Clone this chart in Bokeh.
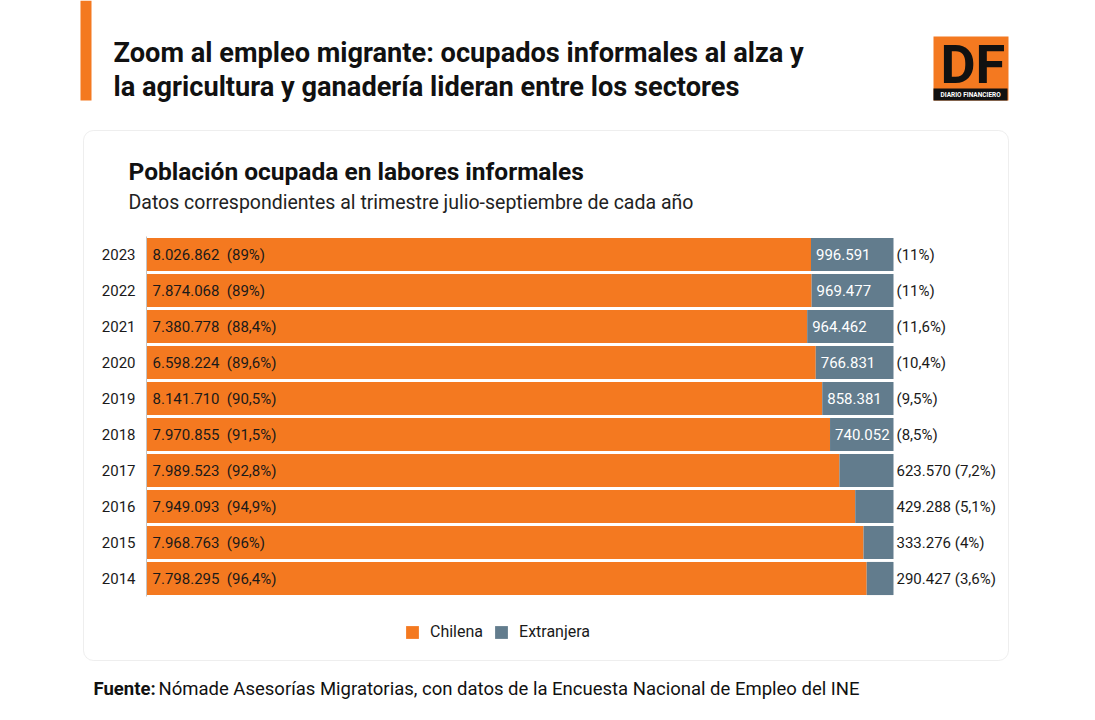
from bokeh.plotting import figure
from bokeh.models import (ColumnDataSource, Range1d, Label, LabelSet,
                          BoxAnnotation, Legend, LegendItem)
from bokeh.core.properties import value
from bokeh.embed import file_html
from bokeh.resources import INLINE

# ---------------- data ----------------
years = ["2014", "2015", "2016", "2017", "2018", "2019", "2020", "2021", "2022", "2023"]
chilena = [7798295, 7968763, 7949093, 7989523, 7970855, 8141710, 6598224, 7380778, 7874068, 8026862]
extranjera = [290427, 333276, 429288, 623570, 740052, 858381, 766831, 964462, 969477, 996591]
pct_chilena = ["96,4%", "96%", "94,9%", "92,8%", "91,5%", "90,5%", "89,6%", "88,4%", "89%", "89%"]
pct_extranjera = ["3,6%", "4%", "5,1%", "7,2%", "8,5%", "9,5%", "10,4%", "11,6%", "11%", "11%"]
series_names = ["Chilena", "Extranjera"]

title_lines = ["Zoom al empleo migrante: ocupados informales al alza y",
               "la agricultura y ganadería lideran entre los sectores"]
chart_title = "Población ocupada en labores informales"
chart_subtitle = "Datos correspondientes al trimestre julio-septiembre de cada año"
source_bold = "Fuente:"
source_text = "Nómade Asesorías Migratorias, con datos de la Encuesta Nacional de Empleo del INE"

ORANGE = "#F47920"
GREY = "#627C8D"
DARK = "#1a1a1a"
FONT = "Roboto"


def fmt(n):
    return "{:,}".format(n).replace(",", ".")


idx = list(range(len(years)))
share_c = [c / (c + e) * 100 for c, e in zip(chilena, extranjera)]
inside = [(100 - s) > 8 for s in share_c]

src = ColumnDataSource(dict(
    idx=idx,
    year=years,
    zero=[0] * len(years),
    share_c=share_c,
    full=[100] * len(years),
    lab_c=[f"{fmt(c)}\u00a0 ({p})" for c, p in zip(chilena, pct_chilena)],
))
src_in = ColumnDataSource(dict(
    idx=[k for k, i in zip(idx, inside) if i],
    x=[s for s, i in zip(share_c, inside) if i],
    lab=[fmt(e) for e, i in zip(extranjera, inside) if i],
))
src_out = ColumnDataSource(dict(
    idx=idx,
    x=[100] * len(years),
    lab=[f"({p})" if i else f"{fmt(e)} ({p})" for e, p, i in zip(extranjera, pct_extranjera, inside)],
))

# ---------------- layout (canvas pixels) ----------------
W, H = 1085, 712
BAR_L, BAR_R = 146, 893          # left / right pixel of the 0..100 % scale
ROW0_C, ROW_H = 578, 36          # pixel centre of the first row, row pitch
K = (BAR_R - BAR_L) / 100.0
y0 = -(H - ROW0_C) / ROW_H

p = figure(width=W, height=H, title=None,
           x_range=Range1d(-BAR_L / K, (W - BAR_L) / K),
           y_range=Range1d(y0, y0 + H / ROW_H),
           output_backend="svg", toolbar_location=None,
           min_border=0, min_border_left=0, min_border_right=0,
           min_border_top=0, min_border_bottom=0)
p.outline_line_color = None
p.xgrid.visible = False
p.ygrid.visible = False
p.xaxis.visible = False
p.yaxis.visible = False


def box(l, r, t, b, **kw):
    p.add_layout(BoxAnnotation(left=l, right=r, top=H - t, bottom=H - b,
                               left_units="screen", right_units="screen",
                               top_units="screen", bottom_units="screen", **kw))


def label(px, baseline, text, size, bold=False, color=DARK, **kw):
    # place the text so that its alphabetic baseline sits at page pixel `baseline`
    y = baseline - 0.37 * size
    p.add_layout(Label(x=px, y=H - y, x_units="screen", y_units="screen",
                       text=text, text_font=FONT, text_font_size=f"{size}px",
                       text_font_style="bold" if bold else "normal",
                       text_color=color, text_baseline="alphabetic", **kw))


# chart box
box(83, 1008, 130, 660, fill_alpha=0, line_color="#c8c8c8", line_width=1, border_radius=10,
    level="underlay")

# bars
r1 = p.hbar(y="idx", left="zero", right="share_c", height=0.92, fill_color=ORANGE,
            line_color=None, source=src)
r2 = p.hbar(y="idx", left="share_c", right="full", height=0.92, fill_color=GREY,
            line_color=None, source=src)
# category axis line + year labels
p.segment(x0=0, y0=-0.5, x1=0, y1=len(years) - 0.5, line_color="#c4c4c4", line_width=1)
p.text(x="zero", y="idx", text="year", source=src, x_offset=-11, text_align="right",
       text_baseline="middle", text_font=value(FONT), text_font_size="15px", text_color=DARK)

p.add_layout(LabelSet(x="zero", y="idx", text="lab_c", source=src, x_offset=6,
                      text_baseline="middle", text_font=value(FONT), text_font_size="15px",
                      text_color=DARK))
p.add_layout(LabelSet(x="x", y="idx", text="lab", source=src_in, x_offset=5,
                      text_baseline="middle", text_font=value(FONT), text_font_size="15px",
                      text_color="white"))
p.add_layout(LabelSet(x="x", y="idx", text="lab", source=src_out, x_offset=3,
                      text_baseline="middle", text_font=value(FONT), text_font_size="15px",
                      text_color=DARK))

# orange accent bar
box(80, 91, 0, 100, fill_color=ORANGE, fill_alpha=1, line_color=None)
# headline
label(113, 63, title_lines[0], 27.2, bold=True, color="#111111")
label(113, 97, title_lines[1], 27.2, bold=True, color="#111111")
# DF logo
box(933, 1008, 36, 100, fill_color=ORANGE, fill_alpha=1, line_color=None)
box(933, 1007, 88, 100, fill_color="#111111", fill_alpha=1, line_color=None)
label(940, 84, "DF", 54, bold=True, color="#111111")
label(940, 97, "DIARIO FINANCIERO", 6.5, bold=True, color="white")
# chart titles
label(128, 180, chart_title, 24.5, bold=True, color="#111111")
label(128, 209, chart_subtitle, 19.5, color="#222222")
# source
label(93, 695, source_bold, 18.5, bold=True, color="#111111")
label(158, 695, source_text, 18.5, color="#111111")

legend = Legend(items=[LegendItem(label=series_names[0], renderers=[r1]),
                       LegendItem(label=series_names[1], renderers=[r2])],
                orientation="horizontal", location=(404, H - 641),
                glyph_width=16, glyph_height=16, label_standoff=10, spacing=10,
                padding=0, margin=0, border_line_color=None, background_fill_alpha=0,
                label_text_font=FONT, label_text_font_size="16px", label_text_color=DARK)
p.add_layout(legend)

open("out.html", "w").write(file_html(p, INLINE))
